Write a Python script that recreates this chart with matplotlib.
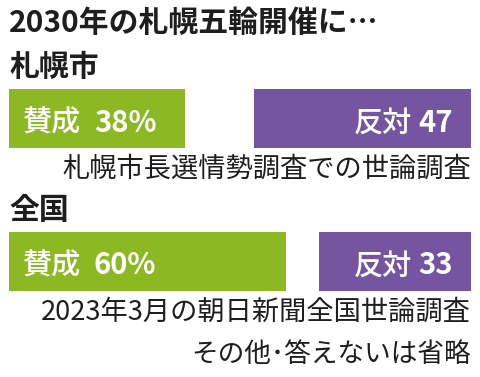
import matplotlib
matplotlib.use("Agg")
import matplotlib.pyplot as plt

plt.rcParams['font.family'] = ['Noto Sans CJK JP', 'DejaVu Sans']

title = "2030年の札幌五輪開催に…"
groups = ["札幌市", "全国"]
sources = ["札幌市長選情勢調査での世論調査", "2023年3月の朝日新聞全国世論調査"]
agree = [38, 60]
oppose = [47, 33]
note = "その他･答えないは省略"

GREEN = "#8bb823"
PURPLE = "#7554a0"
DARK = "#1e1e1e"

W, H = 480, 377
fig = plt.figure(figsize=(W / 100, H / 100), dpi=100)
ax = fig.add_axes([0, 0, 1, 1])
# 0..100 % spans pixel 9..471
ax.set_xlim(-9 / 4.62, (W - 9) / 4.62)
ax.set_ylim(H, 0)
ax.axis("off")

bar_y = [118.5, 261.5]
bar_h = 59

ax.barh(bar_y, agree, height=bar_h, left=0, color=GREEN)
ax.barh(bar_y, oppose, height=bar_h, left=[100 - v for v in oppose], color=PURPLE)


def px(x, y):
    return x / W, 1 - y / H


fig.text(*px(9, 23), title, fontsize=21.5, fontweight="bold", color=DARK, va="center", ha="left")

group_y = [67, 210]
src_y = [169, 312]
for i in range(2):
    fig.text(*px(9, group_y[i]), groups[i], fontsize=21.5, fontweight="bold",
             color=DARK, va="center", ha="left")
    fig.text(*px(471, src_y[i]), sources[i], fontsize=19.6, color=DARK,
             va="center", ha="right")

    base = H - (bar_y[i] + 13)  # baseline in figure pixels
    t1 = fig.text(23 / W, base / H, "賛成", fontsize=21, fontweight="medium",
                  color="white", va="baseline", ha="left")
    ax.annotate(f"{agree[i]}%", xy=(1, base), xycoords=(t1, "figure pixels"),
                xytext=(9, 0), textcoords="offset points",
                fontsize=21, fontweight="bold", color="white",
                va="baseline", ha="left")

    t2 = fig.text(453 / W, base / H, f"{oppose[i]}", fontsize=21, fontweight="bold",
                  color="white", va="baseline", ha="right")
    ax.annotate("反対", xy=(0, base), xycoords=(t2, "figure pixels"),
                xytext=(-5, 0), textcoords="offset points",
                fontsize=21, fontweight="medium", color="white",
                va="baseline", ha="right")

fig.text(*px(471, 355), note, fontsize=19.2, color=DARK, va="center", ha="right")

fig.savefig("out.png", dpi=100, facecolor="white")
